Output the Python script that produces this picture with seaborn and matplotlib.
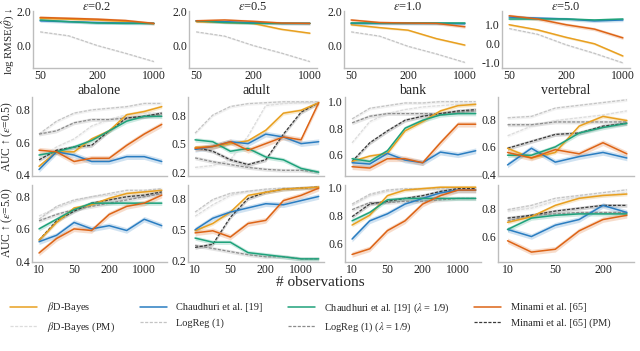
import numpy as np
import matplotlib
matplotlib.use("Agg")
import matplotlib.pyplot as plt
from matplotlib.lines import Line2D
import seaborn as sns

# ---------------- data ----------------
n_obs_rmse = [50, 100, 200, 500, 1000]
n_obs_auc = [10, 20, 50, 100, 200, 500, 1000, 2000]
n_obs_vert = [10, 20, 50, 100, 200, 300]

eps_labels = ["0.2", "0.5", "1.0", "5.0"]
datasets = ["abalone", "adult", "bank", "vertebral"]

# log RMSE panels (top row)
rmse_e02 = dict(bdb=[1.60, 1.55, 1.50, 1.42, 1.28], chau=[1.45, 1.40, 1.35, 1.32, 1.30],
                chau_l=[1.50, 1.40, 1.32, 1.30, 1.30], minami=[1.65, 1.60, 1.55, 1.47, 1.30],
                logreg=[0.80, 0.57, 0.00, -0.46, -0.95])
rmse_e05 = dict(bdb=[1.40, 1.35, 1.30, 0.95, 0.72], chau=[1.45, 1.40, 1.35, 1.30, 1.30],
                chau_l=[1.45, 1.35, 1.30, 1.30, 1.30], minami=[1.45, 1.50, 1.42, 1.32, 1.30],
                logreg=[0.80, 0.55, 0.00, -0.45, -0.95])
rmse_e10 = dict(bdb=[1.22, 1.05, 0.90, 0.40, 0.02], chau=[1.30, 1.30, 1.30, 1.30, 1.28],
                chau_l=[1.30, 1.30, 1.30, 1.30, 1.30], minami=[1.50, 1.35, 1.32, 1.30, 1.10],
                logreg=[0.80, 0.55, -0.05, -0.50, -1.00])
rmse_e50 = dict(bdb=[1.00, 0.73, 0.34, 0.00, -0.64], chau=[1.40, 1.35, 1.30, 1.20, 1.25],
                chau_l=[1.30, 1.30, 1.30, 1.25, 1.30], minami=[1.47, 1.30, 1.00, 0.77, 0.31],
                logreg=[0.80, 0.50, -0.05, -0.50, -1.00])

# AUC, epsilon = 0.5
auc05_abalone = dict(
    bdb=[0.45, 0.54, 0.54, 0.62, 0.67, 0.77, 0.79, 0.82],
    chau=[0.43, 0.54, 0.52, 0.48, 0.48, 0.51, 0.51, 0.48],
    chau_l=[0.52, 0.54, 0.57, 0.61, 0.67, 0.73, 0.76, 0.76],
    minami=[0.55, 0.54, 0.48, 0.50, 0.50, 0.58, 0.65, 0.71],
    bdb_pm=[0.50, 0.57, 0.62, 0.70, 0.74, 0.77, 0.78, 0.78],
    logreg=[0.65, 0.73, 0.78, 0.80, 0.81, 0.82, 0.84, 0.84],
    logreg_l=[0.65, 0.67, 0.72, 0.74, 0.74, 0.75, 0.76, 0.77],
    minami_pm=[0.49, 0.55, 0.57, 0.58, 0.67, 0.75, 0.76, 0.78])
auc05_adult = dict(
    bdb=[0.46, 0.47, 0.50, 0.53, 0.64, 0.82, 0.85, 0.93],
    chau=[0.44, 0.47, 0.52, 0.50, 0.60, 0.57, 0.50, 0.52],
    chau_l=[0.54, 0.52, 0.42, 0.45, 0.36, 0.33, 0.24, 0.20],
    minami=[0.45, 0.47, 0.52, 0.43, 0.50, 0.57, 0.54, 0.93],
    bdb_pm=[0.25, 0.27, 0.33, 0.58, 0.90, 0.92, 0.93, 0.93],
    logreg=[0.61, 0.80, 0.89, 0.92, 0.93, 0.94, 0.94, 0.94],
    logreg_l=[0.35, 0.31, 0.28, 0.25, 0.23, 0.22, 0.22, 0.20],
    minami_pm=[0.46, 0.42, 0.33, 0.28, 0.33, 0.60, 0.83, 0.93])
auc05_bank = dict(
    bdb=[0.55, 0.59, 0.61, 0.78, 0.85, 0.93, 0.97, 0.98],
    chau=[0.54, 0.53, 0.61, 0.56, 0.54, 0.62, 0.60, 0.63],
    chau_l=[0.57, 0.55, 0.63, 0.80, 0.86, 0.90, 0.91, 0.91],
    minami=[0.51, 0.50, 0.57, 0.57, 0.54, 0.69, 0.83, 0.83],
    bdb_pm=[0.69, 0.85, 0.91, 0.94, 0.96, 0.97, 0.98, 0.98],
    logreg=[0.87, 0.95, 0.97, 0.99, 0.99, 1.00, 1.00, 1.00],
    logreg_l=[0.84, 0.89, 0.91, 0.91, 0.91, 0.91, 0.92, 0.93],
    minami_pm=[0.55, 0.69, 0.78, 0.86, 0.89, 0.91, 0.93, 0.94])
auc05_vert = dict(
    bdb=[0.59, 0.52, 0.56, 0.75, 0.82, 0.79],
    chau=[0.47, 0.59, 0.49, 0.53, 0.56, 0.52],
    chau_l=[0.54, 0.54, 0.60, 0.70, 0.74, 0.77],
    minami=[0.56, 0.52, 0.58, 0.55, 0.63, 0.55],
    bdb_pm=[0.68, 0.75, 0.79, 0.81, 0.83, 0.86],
    logreg=[0.81, 0.82, 0.88, 0.90, 0.92, 0.94],
    logreg_l=[0.76, 0.76, 0.78, 0.78, 0.78, 0.78],
    minami_pm=[0.59, 0.64, 0.69, 0.70, 0.75, 0.77])

# AUC, epsilon = 5.0
auc50_abalone = dict(
    bdb=[0.53, 0.64, 0.73, 0.75, 0.79, 0.82, 0.83, 0.84],
    chau=[0.52, 0.56, 0.64, 0.60, 0.62, 0.59, 0.66, 0.62],
    chau_l=[0.60, 0.66, 0.72, 0.76, 0.76, 0.76, 0.76, 0.76],
    minami=[0.45, 0.54, 0.60, 0.59, 0.69, 0.74, 0.76, 0.81],
    bdb_pm=[0.68, 0.73, 0.77, 0.80, 0.81, 0.82, 0.83, 0.84],
    logreg=[0.66, 0.74, 0.78, 0.80, 0.82, 0.84, 0.84, 0.85],
    logreg_l=[0.65, 0.69, 0.72, 0.74, 0.76, 0.78, 0.80, 0.82],
    minami_pm=[0.53, 0.65, 0.71, 0.76, 0.78, 0.80, 0.81, 0.83])
auc50_adult = dict(
    bdb=[0.49, 0.56, 0.67, 0.83, 0.86, 0.89, 0.90, 0.91],
    chau=[0.50, 0.61, 0.67, 0.71, 0.75, 0.74, 0.78, 0.82],
    chau_l=[0.42, 0.38, 0.38, 0.28, 0.26, 0.24, 0.22, 0.22],
    minami=[0.47, 0.49, 0.43, 0.56, 0.59, 0.78, 0.83, 0.90],
    bdb_pm=[0.63, 0.74, 0.83, 0.87, 0.88, 0.89, 0.90, 0.91],
    logreg=[0.67, 0.79, 0.85, 0.87, 0.89, 0.90, 0.90, 0.91],
    logreg_l=[0.35, 0.32, 0.29, 0.26, 0.24, 0.24, 0.22, 0.22],
    minami_pm=[0.33, 0.36, 0.62, 0.80, 0.86, 0.89, 0.90, 0.91])
auc50_bank = dict(
    bdb=[0.73, 0.80, 0.94, 0.98, 0.99, 1.00, 1.00, 1.00],
    chau=[0.63, 0.76, 0.81, 0.88, 0.92, 0.96, 0.98, 0.98],
    chau_l=[0.76, 0.82, 0.91, 0.92, 0.92, 0.92, 0.92, 0.92],
    minami=[0.52, 0.56, 0.69, 0.76, 0.88, 0.94, 0.98, 0.98],
    bdb_pm=[0.87, 0.94, 0.97, 0.98, 0.99, 0.99, 0.99, 0.99],
    logreg=[0.88, 0.95, 0.98, 0.99, 0.99, 0.99, 0.99, 0.99],
    logreg_l=[0.84, 0.89, 0.89, 0.90, 0.90, 0.91, 0.92, 0.92],
    minami_pm=[0.79, 0.88, 0.90, 0.92, 0.94, 0.97, 0.99, 0.99])
auc50_vert = dict(
    bdb=[0.70, 0.74, 0.82, 0.87, 0.89, 0.90],
    chau=[0.65, 0.60, 0.68, 0.72, 0.82, 0.77],
    chau_l=[0.65, 0.73, 0.75, 0.76, 0.76, 0.76],
    minami=[0.57, 0.49, 0.51, 0.64, 0.72, 0.75],
    bdb_pm=[0.78, 0.80, 0.85, 0.88, 0.89, 0.91],
    logreg=[0.79, 0.82, 0.87, 0.89, 0.91, 0.93],
    logreg_l=[0.71, 0.75, 0.76, 0.77, 0.77, 0.77],
    minami_pm=[0.73, 0.75, 0.78, 0.80, 0.82, 0.82])

legend_labels = dict(
    bdb=r"$\beta$D-Bayes", bdb_pm=r"$\beta$D-Bayes (PM)",
    chau="Chaudhuri et al. [19]", logreg="LogReg (1)",
    chau_l=r"Chaudhuri et al. [19] ($\lambda$ = 1/9)", logreg_l=r"LogReg (1) ($\lambda$ = 1/9)",
    minami="Minami et al. [65]", minami_pm="Minami et al. [65] (PM)")

# ---------------- style ----------------
sns.set_theme(style="white")
plt.rcParams["font.family"] = ["Liberation Serif", "DejaVu Serif"]
plt.rcParams["mathtext.fontset"] = "stix"
plt.rcParams["axes.unicode_minus"] = False

STY = {
    "bdb_pm":    dict(color="#dcdcdc", lw=0.9, ls=(0, (2.5, 1.2)), band=0.010),
    "logreg":    dict(color="#c4c4c4", lw=0.9, ls=(0, (2.5, 1.2)), band=0.010),
    "logreg_l":  dict(color="#8c8c8c", lw=0.9, ls=(0, (2.5, 1.2)), band=0.012),
    "minami_pm": dict(color="#3a3a3a", lw=0.9, ls=(0, (2.5, 1.2)), band=0.012),
    "bdb":       dict(color="#E8A020", lw=1.1, ls="-", band=0.012),
    "chau":      dict(color="#2A7DC1", lw=1.1, ls="-", band=0.018),
    "chau_l":    dict(color="#1FA27B", lw=1.1, ls="-", band=0.014),
    "minami":    dict(color="#DD6416", lw=1.1, ls="-", band=0.018),
}
draw_order = ["bdb_pm", "logreg", "logreg_l", "minami_pm", "bdb", "chau", "chau_l", "minami"]

W, H = 640, 351
fig = plt.figure(figsize=(W / 100, H / 100), dpi=100)


def px_axes(left, top, width, height):
    return fig.add_axes([left / W, 1 - (top + height) / H, width / W, height / H])


def style_axes(ax):
    sns.despine(ax=ax)
    for s in ("left", "bottom"):
        ax.spines[s].set_color("#bdbdbd")
        ax.spines[s].set_linewidth(1.0)
    ax.tick_params(length=0, labelsize=8.5, pad=1.5, colors="#222222")


def draw_panel(ax, data, n_obs, band_scale):
    pos = np.arange(len(n_obs))
    for key in draw_order:
        if key not in data:
            continue
        st = STY[key]
        vals = np.asarray(data[key])
        b = st["band"] * band_scale
        ax.fill_between(pos, vals - b, vals + b, color=st["color"], alpha=0.22, lw=0)
        sns.lineplot(x=pos, y=vals, ax=ax, color=st["color"], lw=st["lw"],
                     linestyle=st["ls"], errorbar=None)


# ---------------- top row: log RMSE ----------------
top_lefts = [33, 189, 344, 502]
rmse_panels = [rmse_e02, rmse_e05, rmse_e10, rmse_e50]
rmse_ylims = [(-1.33, 2.03), (-1.33, 2.03), (-1.33, 2.03), (-1.27, 1.72)]
rmse_yticks = [[0.0, 2.0], [0.0, 2.0], [0.0, 2.0], [-1.0, 0.0, 1.0]]
for i in range(4):
    ax = px_axes(top_lefts[i], 11, 128, 57)
    draw_panel(ax, rmse_panels[i], n_obs_rmse, 5.0)
    ax.set_xlim(-0.25, len(n_obs_rmse) - 0.75)
    ax.set_ylim(*rmse_ylims[i])
    ax.set_yticks(rmse_yticks[i])
    ax.set_yticklabels([f"{v:.1f}" for v in rmse_yticks[i]])
    xt = [0, 2, 4]
    ax.set_xticks(xt)
    ax.set_xticklabels([str(n_obs_rmse[j]) for j in xt])
    ax.set_xlabel("")
    ax.set_title(r"$\varepsilon$=" + eps_labels[i], fontsize=9, pad=1)
    style_axes(ax)

# ---------------- rows 2, 3: AUC ----------------
auc_lefts = [32, 188, 345, 498]
rows = [
    dict(top=97, h=79, panels=[auc05_abalone, auc05_adult, auc05_bank, auc05_vert],
         ylims=[(0.39, 0.88), (0.16, 0.99), (0.44, 1.035), (0.39, 0.96)],
         yticks=[[0.4, 0.6, 0.8], [0.2, 0.5, 0.8], [0.6, 0.8, 1.0], [0.4, 0.6, 0.8]],
         xlabels=False, titles=True),
    dict(top=185, h=77, panels=[auc50_abalone, auc50_adult, auc50_bank, auc50_vert],
         ylims=[(0.394, 0.873), (0.19, 0.93), (0.466, 1.016), (0.42, 0.964)],
         yticks=[[0.4, 0.6, 0.8], [0.2, 0.5, 0.8], [0.6, 0.8, 1.0], [0.6, 0.8]],
         xlabels=True, titles=False),
]
for r in rows:
    for i in range(4):
        n_obs = n_obs_vert if i == 3 else n_obs_auc
        ax = px_axes(auc_lefts[i], r["top"], 136 if i else 135, r["h"])
        lo, hi = r["ylims"][i]
        draw_panel(ax, r["panels"][i], n_obs, (hi - lo) / 0.5)
        ax.set_xlim(-0.4, len(n_obs) - 0.7)
        ax.set_ylim(lo, hi)
        ax.set_yticks(r["yticks"][i])
        ax.set_yticklabels([f"{v:.1f}" for v in r["yticks"][i]])
        xt = list(range(0, len(n_obs) - 1, 2))
        ax.set_xticks(xt)
        if r["xlabels"]:
            ax.set_xticklabels([str(n_obs[j]) for j in xt])
        else:
            ax.set_xticklabels([])
        ax.set_xlabel("")
        if r["titles"]:
            ax.set_title(datasets[i], fontsize=10, pad=2)
        style_axes(ax)

# y labels and x label
fig.text(8 / W, 1 - 41 / H, r"log RMSE($\hat{\theta}$) ↓", rotation=90,
         ha="center", va="center", fontsize=7.8)
fig.text(7.5 / W, 1 - 137 / H, r"AUC ↑ ($\varepsilon$=0.5)", rotation=90,
         ha="center", va="center", fontsize=8.3)
fig.text(7.5 / W, 1 - 223 / H, r"AUC ↑ ($\varepsilon$=5.0)", rotation=90,
         ha="center", va="center", fontsize=8.3)
fig.text(320 / W, 1 - 283 / H, "# observations", ha="center", va="center", fontsize=11)

# legend
leg_order = ["bdb", "bdb_pm", "chau", "logreg", "chau_l", "logreg_l", "minami", "minami_pm"]
handles = [Line2D([0], [0], color=STY[k]["color"], lw=STY[k]["lw"], ls=STY[k]["ls"]) for k in leg_order]
labels = [legend_labels[k] for k in leg_order]
fig.legend(handles, labels, loc="upper center", bbox_to_anchor=(0.485, 1 - 291 / H), ncol=4,
           frameon=False, fontsize=7.5, handlelength=2.6, columnspacing=2.4,
           handletextpad=0.9, labelspacing=0.6)

fig.savefig("out.png", dpi=100)
